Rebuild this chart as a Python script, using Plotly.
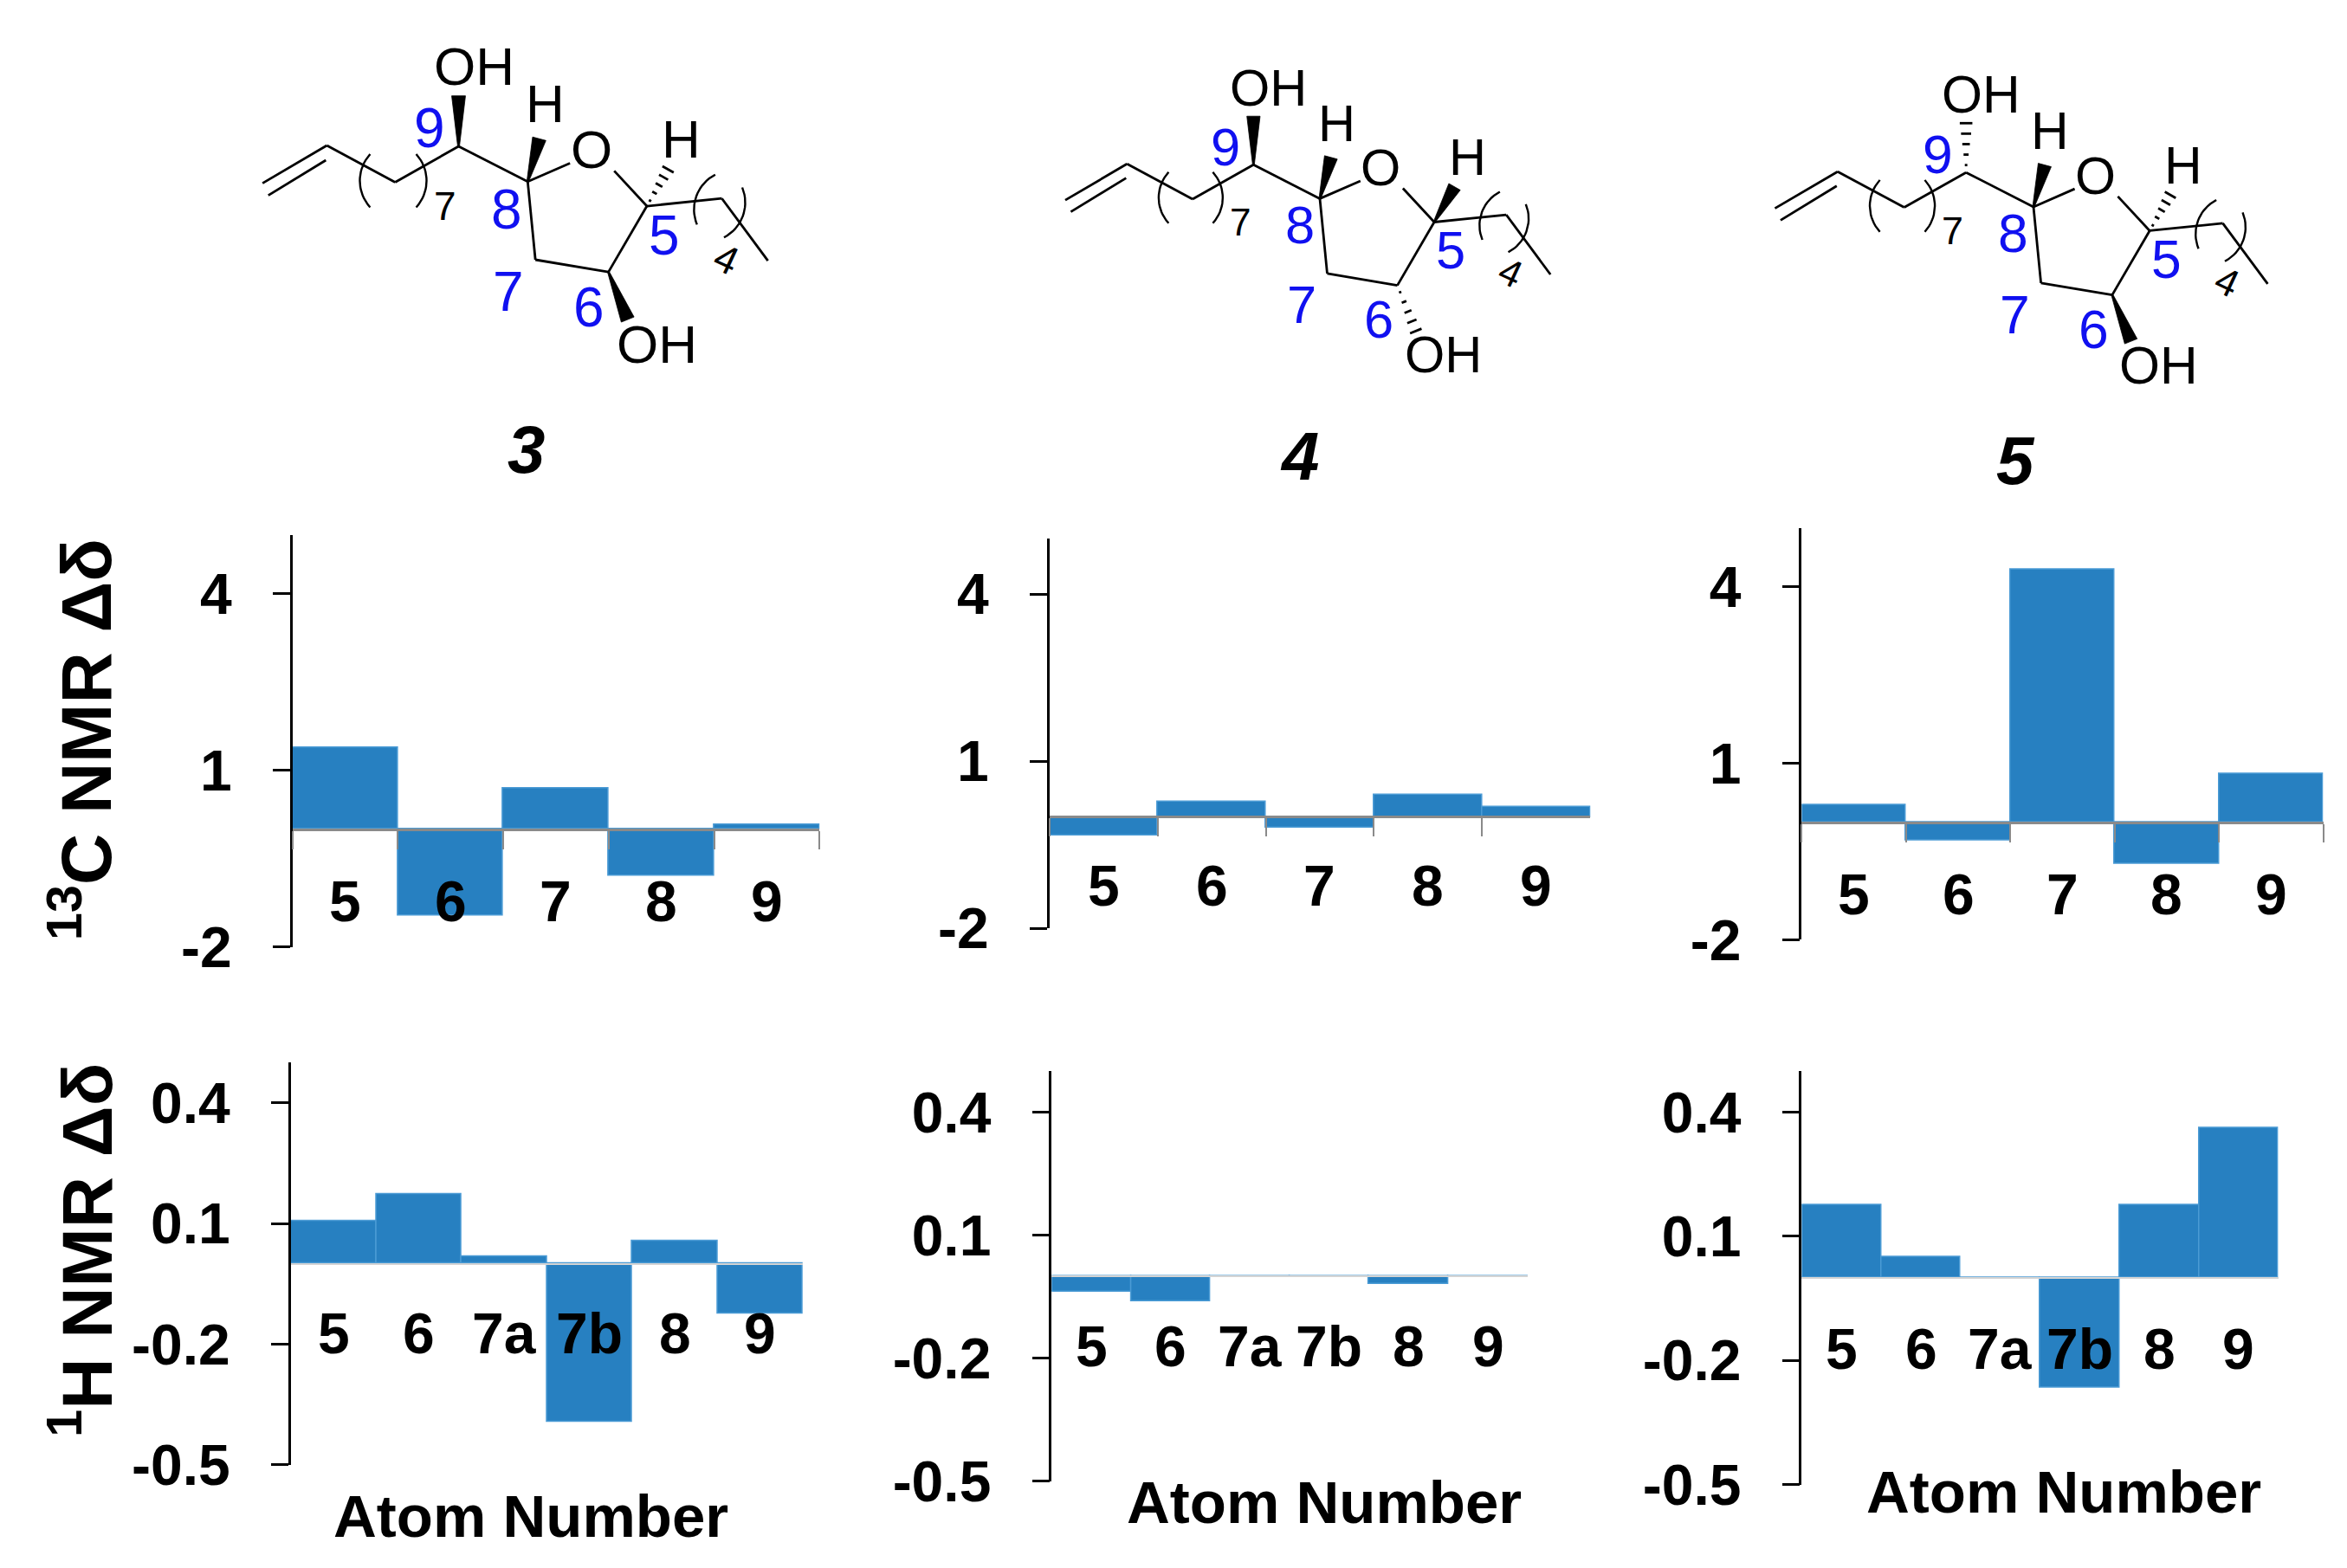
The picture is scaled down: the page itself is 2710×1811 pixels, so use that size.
import math
import plotly.graph_objects as go

# ---------------- reference frame ----------------
W_REF, H_REF = 2710, 1811
FIG_W, FIG_H = 2694, 1795
FONT = "Liberation Sans, Arial, Helvetica, sans-serif"
BAR_COLOR = "#2780C1"
BAR_EDGE = "#4B9BD5"
BLUE_TXT = "#1010F0"

# ---------------- data ----------------
compounds = ["3", "4", "5"]
atoms_c = ["5", "6", "7", "8", "9"]
atoms_h = ["5", "6", "7a", "7b", "8", "9"]

c13_cpd3 = [1.38, -1.47, 0.70, -0.79, 0.08]
c13_cpd4 = [-0.33, 0.27, -0.19, 0.40, 0.18]
c13_cpd5 = [0.29, -0.31, 4.30, -0.71, 0.82]

h1_cpd3 = [0.106, 0.173, 0.019, -0.393, 0.056, -0.123]
h1_cpd4 = [-0.038, -0.061, -0.003, -0.003, -0.019, -0.003]
h1_cpd5 = [0.176, 0.050, 0.0, -0.266, 0.176, 0.361]

c13_tickvals = [-2, 1, 4]
c13_ticktext = ["-2", "1", "4"]
h1_tickvals = [-0.5, -0.2, 0.1, 0.4]
h1_ticktext = ["-0.5", "-0.2", "0.1", "0.4"]

c13_title = "<sup>13</sup>C NMR Δδ"
h1_title = "<sup>1</sup>H NMR Δδ"
x_title = "Atom Number"

# ---------------- panel geometry (reference pixels) ----------------
# (x_left, x_right, y_top, y_bottom)
panels = [
    dict(cats=atoms_c, vals=c13_cpd3, box=(331.6, 943.9, 615.0, 1095.4), kind="C"),
    dict(cats=atoms_c, vals=c13_cpd4, box=(1210.7, 1839.3, 619.4, 1073.6), kind="C"),
    dict(cats=atoms_c, vals=c13_cpd5, box=(2084.8, 2690.4, 607.1, 1087.1), kind="C"),
    dict(cats=atoms_h, vals=h1_cpd3, box=(329.7, 924.7, 1230.0, 1699.0), kind="H"),
    dict(cats=atoms_h, vals=h1_cpd4, box=(1213.5, 1766.4, 1240.0, 1718.0), kind="H"),
    dict(cats=atoms_h, vals=h1_cpd5, box=(2084.8, 2638.3, 1239.6, 1722.0), kind="H"),
]


def px_x(x):
    return x / W_REF


def px_y(y):
    return 1 - y / H_REF


fig = go.Figure()
layout = {}
annotations = []

tick_font = dict(family=FONT, size=66, color="black", weight="bold")

for i, p in enumerate(panels, start=1):
    xa = "x" if i == 1 else f"x{i}"
    ya = "y" if i == 1 else f"y{i}"
    fig.add_trace(go.Bar(
        x=p["cats"], y=p["vals"], xaxis=xa, yaxis=ya,
        marker=dict(color=BAR_COLOR, line=dict(color=BAR_EDGE, width=1.5)),
        showlegend=False, hoverinfo="skip"))
    x0, x1, yt, yb = p["box"]
    xd = [px_x(x0), px_x(x1)]
    yd = [px_y(yb), px_y(yt)]
    if p["kind"] == "C":
        rng = [-2, 5]
        tv, tt = c13_tickvals, c13_ticktext
        lab_y = -1.23
        xline = dict(linecolor="#8A8A8A", linewidth=3, ticks="outside",
                     tickson="boundaries", ticklen=21, tickwidth=2,
                     tickcolor="#8A8A8A")
    else:
        rng = [-0.5, 0.5]
        tv, tt = h1_tickvals, h1_ticktext
        lab_y = -0.172
        xline = dict(linecolor="#D4D4D4", linewidth=2, ticks="")
    zero_pos = yd[0] + (0 - rng[0]) / (rng[1] - rng[0]) * (yd[1] - yd[0])
    xkey = "xaxis" if i == 1 else f"xaxis{i}"
    ykey = "yaxis" if i == 1 else f"yaxis{i}"
    layout[xkey] = dict(domain=xd, anchor="free", position=zero_pos,
                        type="category", range=[-0.5, len(p["cats"]) - 0.5],
                        showline=True, showgrid=False, zeroline=False,
                        showticklabels=False, fixedrange=True,
                        automargin=False, **xline)
    layout[ykey] = dict(domain=yd, anchor=xa, range=rng, tickvals=tv,
                        ticktext=tt, showline=True, linecolor="black",
                        linewidth=2.5, ticks="outside", ticklen=20,
                        tickwidth=2.5, tickcolor="black", showgrid=False,
                        zeroline=False, tickfont=tick_font,
                        ticklabelstandoff=34, fixedrange=True,
                        automargin=False)
    # category labels sit just below the zero line (index = category position)
    for k, c in enumerate(p["cats"]):
        annotations.append(dict(x=k, y=lab_y, xref=xa, yref=ya, text=c,
                                showarrow=False, xanchor="center",
                                yanchor="middle", font=tick_font))

# axis titles
title_font = dict(family=FONT, size=82, color="black", weight="bold")
annotations.append(dict(x=px_x(86), y=px_y(853), xref="paper", yref="paper",
                        text=c13_title, textangle=-90, showarrow=False,
                        xanchor="center", yanchor="middle", font=title_font))
annotations.append(dict(x=px_x(86), y=px_y(1448), xref="paper", yref="paper",
                        text=h1_title, textangle=-90, showarrow=False,
                        xanchor="center", yanchor="middle", font=title_font))
xt_font = dict(family=FONT, size=69, color="black", weight="bold")
for (cx, cy) in [(609, 1759), (1530, 1743), (2389, 1731)]:
    annotations.append(dict(x=px_x(cx), y=px_y(cy), xref="paper", yref="paper",
                            text=x_title, showarrow=False, xanchor="center",
                            yanchor="middle", font=xt_font))

# ---------------- chemical structures (overlay in pixel frame) ----------------
STRUCT_PTS = {
    "C1": (-227.7, 42.9), "C2": (-153.0, -1.0),
    "C1b": (-221.0, 57.1), "C2b": (-154.1, 16.1),
    "C3": (-73.7, 41.8), "C9": (0.0, 0.0), "C8": (80.3, 41.1),
    "Oa": (129.4, 19.6), "Ob": (180.8, 28.6), "C5": (218.7, 69.6),
    "Cv": (305.8, 60.7), "Ce": (359.3, 133.2), "C6": (174.1, 146.4),
    "C7": (89.2, 132.1),
    "OH9b": (0.0, -58.9), "H8b": (93.7, -8.9), "H5b": (243.3, 26.8),
    "OH6b": (196.4, 201.8),
}
STRUCT_BONDS = [("C1", "C2"), ("C1b", "C2b"), ("C2", "C3"), ("C3", "C9"),
                ("C9", "C8"), ("C8", "Oa"), ("Ob", "C5"), ("C5", "Cv"),
                ("Cv", "Ce"), ("C5", "C6"), ("C6", "C7"), ("C7", "C8")]
STEREO_BONDS = {"C9": ("C9", "OH9b"), "C8": ("C8", "H8b"),
                "C5": ("C5", "H5b"), "C6": ("C6", "OH6b")}
STEREO = {
    "3": {"C9": "wedge", "C8": "wedge", "C5": "hash", "C6": "wedge"},
    "4": {"C9": "wedge", "C8": "wedge", "C5": "wedge", "C6": "hash"},
    "5": {"C9": "hash", "C8": "wedge", "C5": "hash", "C6": "wedge"},
}
PLACEMENT = {"3": (524.6, 162.5, 1.0), "4": (1447.9, 183.9, 0.96),
             "5": (2275.6, 192.9, 0.975)}
ATOM_TEXT = [("OH", (17.8, -92.9)), ("H", (100.4, -50.0)), ("O", (154.0, 3.6)),
             ("H", (258.9, -8.9)), ("OH", (229.9, 230.4))]
NUM_TEXT = [("9", (-33.6, -21.5)), ("8", (55.8, 73.2)), ("7", (58.0, 169.5)),
            ("6", (151.7, 187.5)), ("5", (238.8, 103.5))]
# repeat-unit brackets: (centre x, centre y, side -1 "(" / +1 ")", tilt deg)
PARENS = [(-102.7, 40.0, -1, 0), (-49.2, 40.0, 1, 0),
          (287.5, 62.0, -1, 20), (318.9, 77.0, 1, 20)]
PAREN_H, PAREN_BULGE = 62.0, 12.0
SUBSCRIPTS = [("7", (-16.0, 70.0), 0, 46), ("4", (311.0, 131.0), 25, 46)]
COMPOUND_POS = {"3": (603.0, 516.0), "4": (1501.4, 523.2), "5": (2333.7, 528.6)}


def place(pt, ox, oy, s):
    return (ox + pt[0] * s, oy + pt[1] * s)


def wedge_poly(a, b, w0, w1):
    dx, dy = b[0] - a[0], b[1] - a[1]
    L = math.hypot(dx, dy)
    nx, ny = -dy / L, dx / L
    return [(a[0] + nx * w0 / 2, a[1] + ny * w0 / 2),
            (b[0] + nx * w1 / 2, b[1] + ny * w1 / 2),
            (b[0] - nx * w1 / 2, b[1] - ny * w1 / 2),
            (a[0] - nx * w0 / 2, a[1] - ny * w0 / 2),
            (a[0] + nx * w0 / 2, a[1] + ny * w0 / 2)]


def hash_segs(a, b, n, w0, w1):
    dx, dy = b[0] - a[0], b[1] - a[1]
    L = math.hypot(dx, dy)
    nx, ny = -dy / L, dx / L
    segs = []
    for k in range(n):
        t = 0.15 + 0.85 * k / (n - 1)
        w = w0 + (w1 - w0) * k / (n - 1)
        cx, cy = a[0] + dx * t, a[1] + dy * t
        segs.append(((cx - nx * w / 2, cy - ny * w / 2),
                     (cx + nx * w / 2, cy + ny * w / 2)))
    return segs


def paren_arc(c, side, tilt, h, b, npts=19):
    R = (h * h / 4 + b * b) / (2 * b)
    th = math.radians(tilt)
    xs, ys = [], []
    for k in range(npts):
        yl = -h / 2 + h * k / (npts - 1)
        xl = side * (math.sqrt(R * R - yl * yl) - (R - b))
        xs.append(c[0] + xl * math.cos(th) - yl * math.sin(th))
        ys.append(c[1] + xl * math.sin(th) + yl * math.cos(th))
    return xs, ys


for cpd in compounds:
    ox, oy, s = PLACEMENT[cpd]
    P = {k: place(v, ox, oy, s) for k, v in STRUCT_PTS.items()}
    lx, ly = [], []
    for a, b in STRUCT_BONDS:
        lx += [P[a][0], P[b][0], None]
        ly += [P[a][1], P[b][1], None]
    wx, wy = [], []
    for center, kind in STEREO[cpd].items():
        a, b = STEREO_BONDS[center]
        if kind == "wedge":
            poly = wedge_poly(P[a], P[b], 2 * s, 16 * s)
            wx += [q[0] for q in poly] + [None]
            wy += [q[1] for q in poly] + [None]
        else:
            for (p1, p2) in hash_segs(P[a], P[b], 5, 3 * s, 15 * s):
                lx += [p1[0], p2[0], None]
                ly += [p1[1], p2[1], None]
    fig.add_trace(go.Scatter(x=lx, y=ly, mode="lines", xaxis="x7", yaxis="y7",
                             line=dict(color="black", width=2.8),
                             showlegend=False, hoverinfo="skip"))
    px_, py_ = [], []
    for (cxp, cyp, side, tilt) in PARENS:
        c = place((cxp, cyp), ox, oy, s)
        xs, ys = paren_arc(c, side, tilt, PAREN_H * s, PAREN_BULGE * s)
        px_ += xs + [None]
        py_ += ys + [None]
    fig.add_trace(go.Scatter(x=px_, y=py_, mode="lines", xaxis="x7", yaxis="y7",
                             line=dict(color="black", width=2.4),
                             showlegend=False, hoverinfo="skip"))
    fig.add_trace(go.Scatter(x=wx, y=wy, mode="lines", fill="toself",
                             fillcolor="black", xaxis="x7", yaxis="y7",
                             line=dict(color="black", width=0.8),
                             showlegend=False, hoverinfo="skip"))
    for txt, pt in ATOM_TEXT:
        q = place(pt, ox, oy, s)
        annotations.append(dict(x=q[0], y=q[1], xref="x7", yref="y7", text=txt,
                                showarrow=False, xanchor="center", yanchor="middle",
                                font=dict(family=FONT, size=62 * s, color="black")))
    for txt, pt in NUM_TEXT:
        q = place(pt, ox, oy, s)
        annotations.append(dict(x=q[0], y=q[1], xref="x7", yref="y7", text=txt,
                                showarrow=False, xanchor="center", yanchor="middle",
                                font=dict(family=FONT, size=64 * s, color=BLUE_TXT)))
    for txt, pt, ang, fs in SUBSCRIPTS:
        q = place(pt, ox, oy, s)
        annotations.append(dict(x=q[0], y=q[1], xref="x7", yref="y7", text=txt,
                                showarrow=False, xanchor="center", yanchor="middle",
                                textangle=ang,
                                font=dict(family=FONT, size=fs * s, color="black")))
    cx, cy = COMPOUND_POS[cpd]
    annotations.append(dict(x=cx, y=cy, xref="x7", yref="y7", text=cpd,
                            showarrow=False, xanchor="center", yanchor="middle",
                            font=dict(family=FONT, size=78, color="black",
                                      weight="bold", style="italic")))

layout["xaxis7"] = dict(domain=[0, 1], range=[0, W_REF], anchor="y7",
                        visible=False, fixedrange=True, automargin=False)
layout["yaxis7"] = dict(domain=[0, 1], range=[H_REF, 0], anchor="x7",
                        visible=False, fixedrange=True, automargin=False)

fig.update_layout(
    width=FIG_W, height=FIG_H,
    margin=dict(l=0, r=0, t=0, b=0, autoexpand=False),
    paper_bgcolor="white", plot_bgcolor="rgba(0,0,0,0)",
    bargap=0, showlegend=False,
    annotations=annotations,
    **layout,
)

fig.write_html("out.html")
